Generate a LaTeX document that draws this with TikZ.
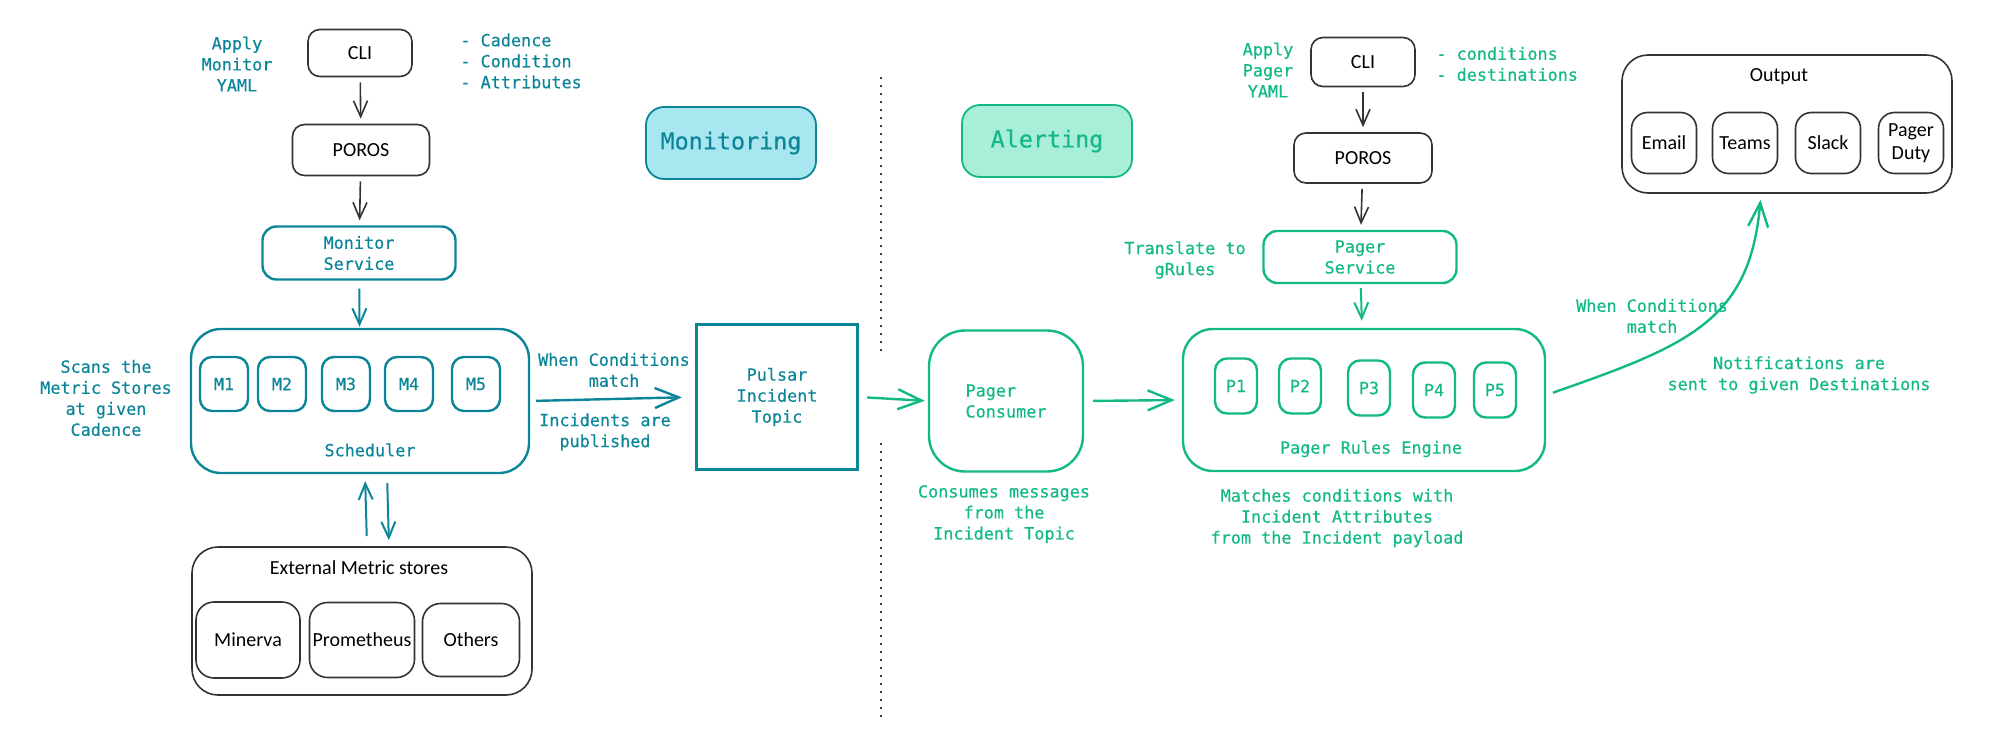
\documentclass[tikz,border=0pt]{standalone}
\usepackage{fontspec}
\setmainfont{Carlito}
\newfontfamily\codefont[FakeBold=0.4]{DejaVu Sans Mono}
\usetikzlibrary{arrows.meta}
\definecolor{monteal}{HTML}{0C8599}
\definecolor{alertgreen}{HTML}{12B886}
\definecolor{monhatch}{HTML}{A8E7F0}
\definecolor{alerthatch}{HTML}{A9EED8}

\begin{document}
\begin{tikzpicture}[
				x=0.5pt, y=-0.5pt,
				% text styles
				codetext/.style={font=\codefont\fontsize{8.4}{10.5}\selectfont, align=center, inner sep=0pt},
				montext/.style={codetext, text=monteal},
				alerttext/.style={codetext, text=alertgreen},
				% box styles
				handbox/.style={draw=black!80, line width=0.8pt, rounded corners=6pt, inner sep=1pt, align=center, font=\fontsize{10}{11.5}\selectfont},
				monbox/.style={montext, draw=monteal, line width=1.2pt, rounded corners=7pt},
				alertbox/.style={alerttext, draw=alertgreen, line width=1.2pt, rounded corners=7pt},
				badge/.style={rounded corners=9pt, line width=0.9pt, minimum width=85pt, minimum height=36pt, font=\codefont\fontsize{11.7}{13}\selectfont},
				smallarrow/.style={-{Straight Barb[length=8pt, width=7pt]}, shorten <=2.5pt, shorten >=2.5pt},
				bigarrow/.style={-{Straight Barb[length=12pt, width=10pt]}},
				divider/.style={black!75, line width=1.2pt, dash pattern=on 1.2pt off 2.8pt}
				]
				\useasboundingbox (0,0) rectangle (2000,738);
				\pgfmathsetmacro{\DividerX}{881}

				% monitoring side
				\node[handbox, minimum width=52pt, minimum height=23.5pt] (cliA) at (360,53) {CLI};
				\node[montext] (applyA) at (237,64) {Apply\\Monitor\\YAML};
				\node[montext, anchor=west, align=left] (listA) at (460,61) {- Cadence\\- Condition\\- Attributes};
				\node[handbox, minimum width=68.5pt, minimum height=25.5pt] (porosA) at (361,150) {POROS};
				\node[monbox, minimum width=96.5pt, minimum height=26.5pt] (monsvc) at (359,253) {Monitor\\Service};
				\node[monbox, rounded corners=15pt, minimum width=169pt, minimum height=72pt] (sched) at (360,401) {};
				\foreach \mx [count=\i] in {224,282,346,409,476}
					\node[monbox, rounded corners=6pt, minimum width=24pt, minimum height=27pt] (m\i) at (\mx,384) {M\i};
				\node[montext] (schedlbl) at (370,450) {Scheduler};
				\node[montext] (scans) at (106,398) {Scans the\\Metric Stores\\at given\\Cadence};

				\node[handbox, rounded corners=13pt, minimum width=170pt, minimum height=74pt] (ext) at (362,621) {};
				\node[font=\fontsize{10}{11.5}\selectfont] (exttitle) at (359,568) {External Metric stores};
				\node[handbox, rounded corners=9pt, minimum width=52pt, minimum height=38pt] (minerva) at (248,640) {Minerva};
				\node[handbox, rounded corners=9pt, minimum width=52.5pt, minimum height=37.5pt] (prom) at (362,640) {Prometheus};
				\node[handbox, rounded corners=9pt, minimum width=48.5pt, minimum height=36.5pt] (others) at (471,640) {Others};

				\node[montext] (whenA) at (614,370) {When Conditions\\match};
				\node[montext] (incA) at (605,432) {Incidents are\\published};
				\node[montext, draw=monteal, line width=1.6pt, minimum width=80.5pt, minimum height=72.5pt] (pulsar) at (777,397) {Pulsar\\Incident\\Topic};
				\node[badge, draw=monteal, fill=monhatch, text=monteal] (monbadge) at (731,143) {Monitoring};

				\draw[smallarrow, black!80, line width=0.8pt] (cliA) -- (porosA);
				\draw[smallarrow, black!80, line width=0.8pt] (porosA) -- (monsvc);
				\draw[smallarrow, monteal, line width=1pt, shorten <=4pt, shorten >=0.5pt] (monsvc) -- (sched);
				\draw[smallarrow, monteal, line width=1pt, shorten <=5pt, shorten >=3.5pt] ([xshift=2.5pt]ext.north) -- ([xshift=2.5pt]sched.south);
				\draw[smallarrow, monteal, line width=1pt, shorten <=4.5pt, shorten >=3pt] ([xshift=13.5pt]sched.south) -- ([xshift=13.5pt]ext.north);
				\draw[bigarrow, monteal, line width=1.2pt, shorten <=3pt, shorten >=6.5pt] (sched.east) -- (pulsar.west);

				% divider
				\draw[divider] (\DividerX,77) -- (\DividerX,353);
				\draw[divider] (\DividerX,443) -- (\DividerX,718);

				% alerting side
				\node[badge, draw=alertgreen, fill=alerthatch, text=alertgreen] (alertbadge) at (1047,141) {Alerting};
				\node[alerttext] (applyB) at (1268,70) {Apply\\Pager\\YAML};
				\node[handbox, minimum width=52pt, minimum height=24.5pt] (cliB) at (1363,62) {CLI};
				\node[alerttext, anchor=west, align=left] (listB) at (1436,64) {- conditions\\- destinations};
				\node[handbox, minimum width=69pt, minimum height=25pt] (porosB) at (1363,158) {POROS};
				\node[alertbox, minimum width=96.5pt, minimum height=26pt] (pagersvc) at (1360,257) {Pager\\Service};
				\node[alerttext] (translate) at (1185,260) {Translate to\\gRules};

				\node[alertbox, align=left, rounded corners=18pt, minimum width=77pt, minimum height=70.5pt] (consumer) at (1006,401) {Pager\\Consumer};
				\node[alerttext] (consumes) at (1004,514) {Consumes messages\\from the\\Incident Topic};

				\node[alertbox, rounded corners=15pt, minimum width=181pt, minimum height=71pt] (rules) at (1364,400) {};
				\foreach \px/\py [count=\i] in {1236/386,1300/386,1369/388,1434/390,1495/390}
					\node[alertbox, rounded corners=6pt, minimum width=21pt, minimum height=27.5pt] (p\i) at (\px,\py) {P\i};
				\node[alerttext] (ruleslbl) at (1371,449) {Pager Rules Engine};
				\node[alerttext] (matches) at (1337,518) {Matches conditions with\\Incident Attributes\\from the Incident payload};

				\node[handbox, rounded corners=13pt, minimum width=165pt, minimum height=69pt] (output) at (1787,124) {};
				\node[font=\fontsize{10}{11.5}\selectfont] (outputlbl) at (1779,77) {Output};
				\foreach \dx/\dname/\dlabel in {1664/email/Email, 1745/teams/Teams, 1828/slack/Slack, 1911/pagerduty/{Pager\\Duty}}
					\node[handbox, rounded corners=8pt, minimum width=32.5pt, minimum height=30.5pt] (\dname) at (\dx,143) {\dlabel};

				\node[alerttext] (whenB) at (1652,316) {When Conditions\\match};
				\node[alerttext] (notif) at (1799,375) {Notifications are\\sent to given Destinations};

				\draw[smallarrow, black!80, line width=0.8pt] (cliB) -- (porosB);
				\draw[smallarrow, black!80, line width=0.8pt] (porosB) -- (pagersvc);
				\draw[smallarrow, alertgreen, line width=1pt, shorten <=2pt, shorten >=3.5pt] (pagersvc) -- (rules);
				\draw[bigarrow, alertgreen, line width=1.2pt, shorten <=4pt, shorten >=1.5pt] (pulsar.east) -- (consumer.west);
				\draw[bigarrow, alertgreen, line width=1.2pt, shorten <=4.5pt, shorten >=3.5pt] (consumer.east) -- (rules.west);
				\draw[bigarrow, alertgreen, line width=1.2pt, shorten <=3.5pt, shorten >=3pt] ([yshift=2.5pt]rules.east) .. controls (1690,345) and (1750,320) .. ([xshift=-13pt]output.south);
			\end{tikzpicture}
\end{document}
